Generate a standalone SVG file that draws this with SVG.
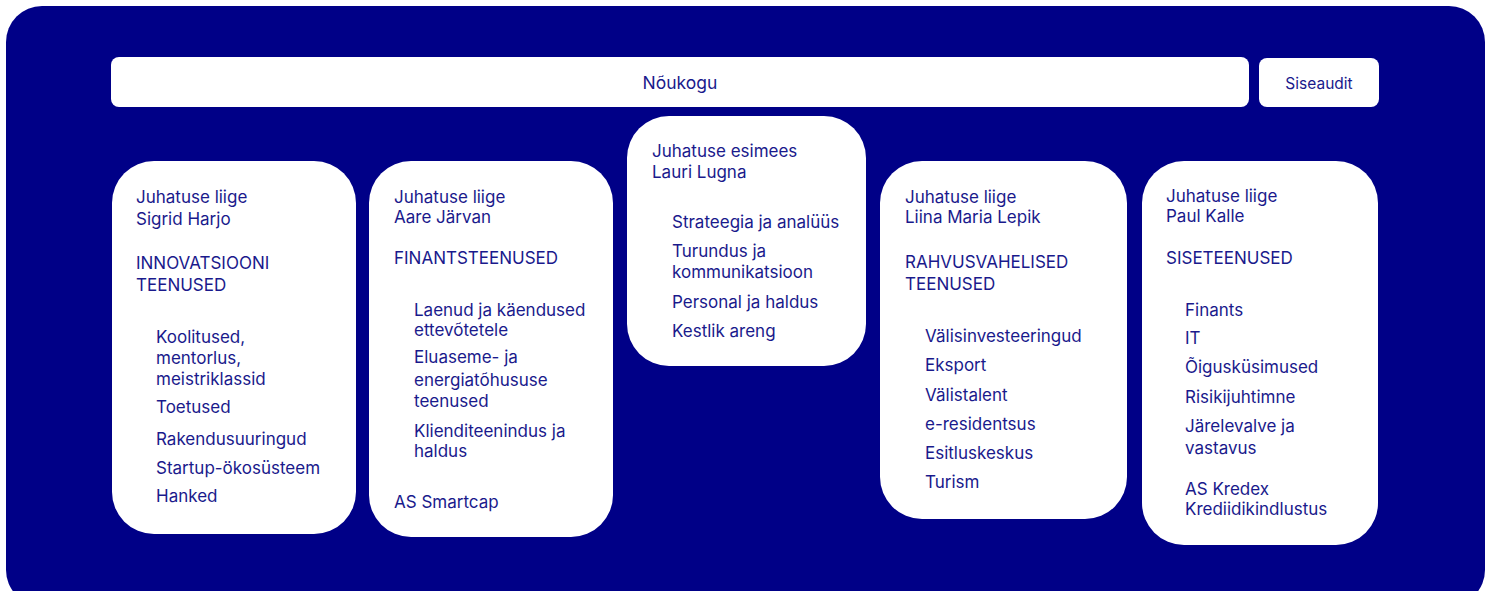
<svg xmlns="http://www.w3.org/2000/svg" width="1492" height="591" viewBox="0 0 1492 591">
<style>
.bg{fill:#000087}
.card{fill:#ffffff}
text{font-family:Inter,"Noto Sans","Liberation Sans",sans-serif;font-size:17px;fill:#1a1a8c}
.sm{font-size:15.5px}
.c{text-anchor:middle}
</style>
<rect width="1492" height="591" fill="#ffffff"/>
<rect class="bg" x="6" y="6" width="1479" height="600" rx="36"/>
<g id="noukogu">
<rect class="card" x="111" y="57" width="1138" height="50" rx="8"/>
<text class="c" x="680" y="89" style="font-size:17.5px">Nõukogu</text>
</g>
<g id="siseaudit">
<rect class="card" x="1259" y="58" width="120" height="49" rx="8"/>
<text class="c sm" x="1319" y="89">Siseaudit</text>
</g>
<g id="innovatsioon">
<rect class="card" x="112" y="161" width="244" height="373" rx="42"/>
<text x="136" y="203">Juhatuse liige</text>
<text x="136" y="225">Sigrid Harjo</text>
<text x="136" y="269">INNOVATSIOONI</text>
<text x="136" y="291">TEENUSED</text>
<text x="156" y="343">Koolitused,</text>
<text x="156" y="364">mentorlus,</text>
<text x="156" y="385">meistriklassid</text>
<text x="156" y="413">Toetused</text>
<text x="156" y="445">Rakendusuuringud</text>
<text x="156" y="474">Startup-ökosüsteem</text>
<text x="156" y="502">Hanked</text>
</g>
<g id="finants">
<rect class="card" x="369" y="161" width="244" height="376" rx="42"/>
<text x="394" y="203">Juhatuse liige</text>
<text x="394" y="223">Aare Järvan</text>
<text x="394" y="264">FINANTSTEENUSED</text>
<text x="414" y="316">Laenud ja käendused</text>
<text x="414" y="336">ettevõtetele</text>
<text x="414" y="363">Eluaseme- ja</text>
<text x="414" y="386">energiatõhususe</text>
<text x="414" y="407">teenused</text>
<text x="414" y="437">Klienditeenindus ja</text>
<text x="414" y="457">haldus</text>
<text x="394" y="508">AS Smartcap</text>
</g>
<g id="esimees">
<rect class="card" x="627" y="116" width="239" height="250" rx="42"/>
<text x="652" y="157">Juhatuse esimees</text>
<text x="652" y="178">Lauri Lugna</text>
<text x="672" y="228">Strateegia ja analüüs</text>
<text x="672" y="257">Turundus ja</text>
<text x="672" y="278">kommunikatsioon</text>
<text x="672" y="308">Personal ja haldus</text>
<text x="672" y="337">Kestlik areng</text>
</g>
<g id="rahvusvaheline">
<rect class="card" x="880" y="161" width="247" height="358" rx="42"/>
<text x="905" y="203">Juhatuse liige</text>
<text x="905" y="223">Liina Maria Lepik</text>
<text x="905" y="268">RAHVUSVAHELISED</text>
<text x="905" y="290">TEENUSED</text>
<text x="925" y="342">Välisinvesteeringud</text>
<text x="925" y="371">Eksport</text>
<text x="925" y="401">Välistalent</text>
<text x="925" y="430">e-residentsus</text>
<text x="925" y="459">Esitluskeskus</text>
<text x="925" y="488">Turism</text>
</g>
<g id="siseteenused">
<rect class="card" x="1142" y="161" width="236" height="384" rx="42"/>
<text x="1166" y="202">Juhatuse liige</text>
<text x="1166" y="222">Paul Kalle</text>
<text x="1166" y="264">SISETEENUSED</text>
<text x="1185" y="316">Finants</text>
<text x="1185" y="344">IT</text>
<text x="1185" y="373">Õigusküsimused</text>
<text x="1185" y="403">Risikijuhtimne</text>
<text x="1185" y="432">Järelevalve ja</text>
<text x="1185" y="454">vastavus</text>
<text x="1185" y="495">AS Kredex</text>
<text x="1185" y="515">Krediidikindlustus</text>
</g>
<g id="connectors"/>
</svg>
